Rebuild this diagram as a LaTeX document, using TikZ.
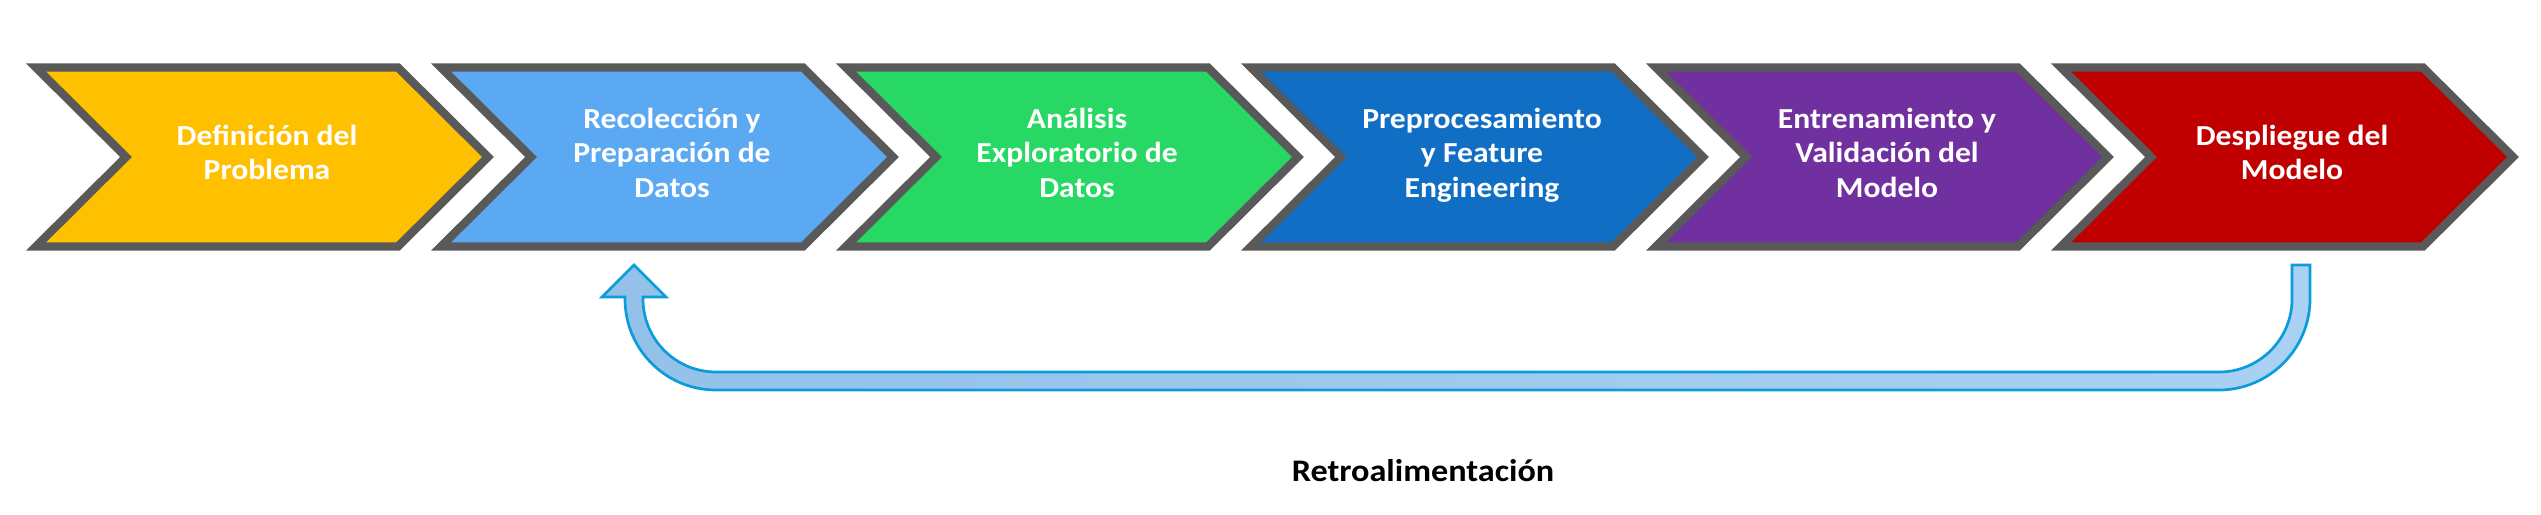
\documentclass[tikz,border=0pt]{standalone}
\usepackage{fontspec}
\setmainfont{Carlito}[FakeStretch=1.09]
\usetikzlibrary{positioning}
\definecolor{stageline}{HTML}{595959}
\definecolor{cyellow}{HTML}{FFC000}
\definecolor{clightblue}{HTML}{5BA9F2}
\definecolor{cgreen}{HTML}{27D964}
\definecolor{cblue}{HTML}{106FC4}
\definecolor{cpurple}{HTML}{7030A0}
\definecolor{cred}{HTML}{C00000}
\definecolor{fbline}{HTML}{0A9DD9}
\definecolor{fbleft}{HTML}{93C1E9}
\definecolor{fbright}{HTML}{AAD1F3}
\tikzset{stage/.style={draw=stageline,line width=4.15pt,miter limit=10},
         stage text/.style={text=white,font=\fontsize{14.5}{17.25}\selectfont\bfseries,align=center,inner sep=0pt,
                            execute at begin node=\strut,execute at end node=\strut},
         feedback/.style={draw=fbline,line width=1.35pt,left color=fbleft,right color=fbright},
         feedback label/.style={font=\fontsize{15.7}{19}\selectfont\bfseries,anchor=base,inner sep=0pt},
}

\begin{document}
\begin{tikzpicture}[x=0.5pt,y=-0.5pt]

\useasboundingbox (0,0) rectangle (2541,514);

% etapas del proceso
\foreach \i/\col/\txt in {0/cyellow/{Definición del\\Problema},
                          1/clightblue/{Recolección y\\Preparación de\\Datos},
                          2/cgreen/{Análisis\\Exploratorio de\\Datos},
                          3/cblue/{Preprocesamiento\\y Feature\\Engineering},
                          4/cpurple/{Entrenamiento y\\Validación del\\Modelo},
                          5/cred/{Despliegue del\\Modelo}}
{
    \pgfmathsetmacro{\L}{36+405*\i}
    \draw[stage,fill=\col] (\L,67.5) -- ++(362,0) -- ++(90,89.5) -- ++(-90,89.5)
        -- ++(-362,0) -- ++(90,-89.5) -- cycle;
    \node[stage text] (s\i) at (\L+231,157.7) {\txt};
}

% flecha de retroalimentacion
\draw[feedback] (2292,265) -- (2310,265) -- (2310,299)
    .. controls (2310,349.3) and (2268.7,390) .. (2219,390) -- (716,390)
    .. controls (665.7,390) and (625,349.3) .. (625,299) -- (625,297)
    -- (602,297) -- (634,265) -- (666,297) -- (643,297) -- (643,299)
    .. controls (643,339.3) and (675.7,372) .. (716,372) -- (2219,372)
    .. controls (2259.3,372) and (2292,339.3) .. (2292,299) -- cycle;

\node[feedback label] (fb) at (1423,481.5) {Retroalimentación};
\end{tikzpicture}
\end{document}
